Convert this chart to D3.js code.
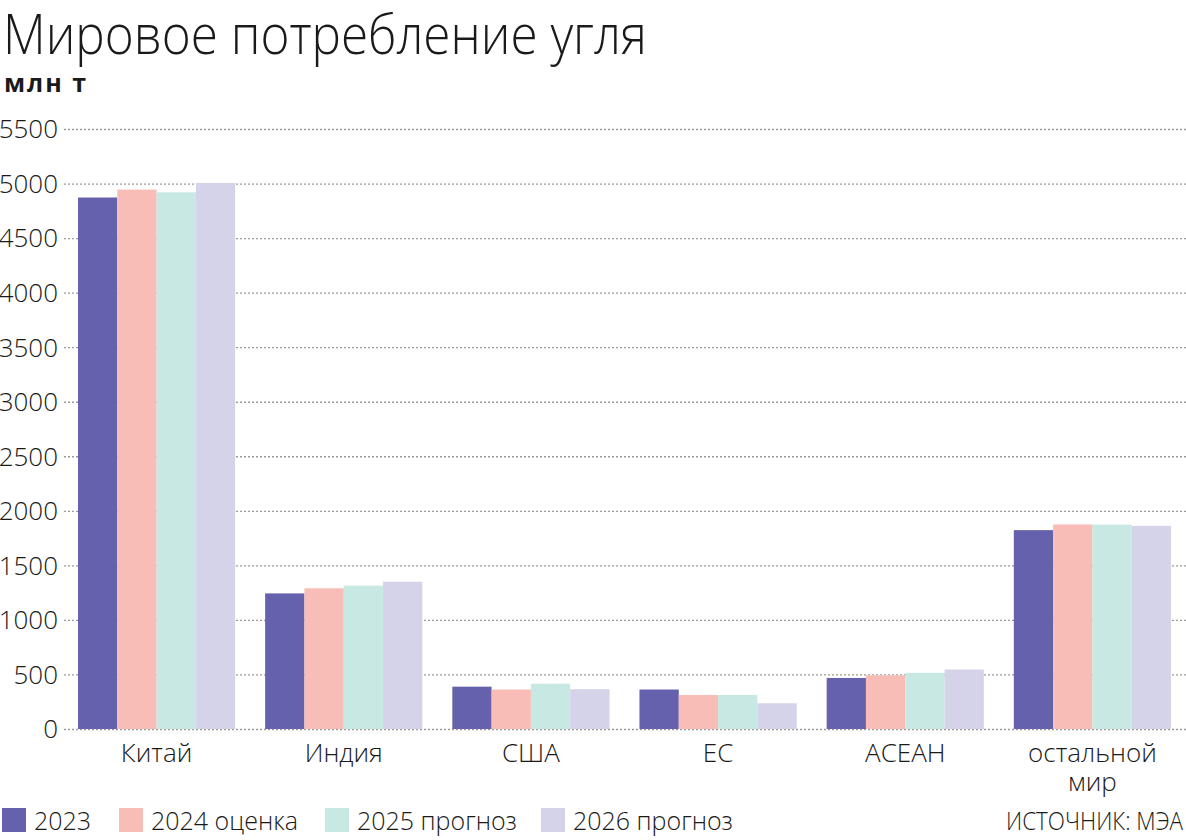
<!DOCTYPE html>
<html lang="ru">
<head>
<meta charset="utf-8">
<script src="https://cdn.jsdelivr.net/npm/d3@7"></script>
<style>
  body { margin: 0; background: #fff; }
  svg { display: block; font-family: "Open Sans", "Noto Sans", sans-serif; }
  .light { font-weight: 300; fill: #1a1a1a; }
  .grid line { stroke: #9a9a9a; stroke-width: 1.3; stroke-dasharray: 2 2; }
</style>
</head>
<body>
<script>
"use strict";

// Data (млн т)
const regions = ["Китай", "Индия", "США", "ЕС", "АСЕАН", "остальной мир"];
const seriesNames = ["2023", "2024 оценка", "2025 прогноз", "2026 прогноз"];
const v2023 = [4872, 1243, 388, 362, 468, 1823];
const v2024 = [4945, 1290, 362, 312, 492, 1875];
const v2025 = [4920, 1314, 415, 312, 515, 1873];
const v2026 = [5006, 1350, 365, 236, 545, 1862];
const yTicks = [0, 500, 1000, 1500, 2000, 2500, 3000, 3500, 4000, 4500, 5000, 5500];
const colors = ["#6661ac", "#f8bdb6", "#c8e8e4", "#d5d3ea"];

const w = 1186;
const h = 840;
const series = [v2023, v2024, v2025, v2026];

const svg = d3.select("body").append("svg").attr("width", w).attr("height", h);

// Title and unit
svg.append("text").attr("class", "light")
  .attr("x", 3).attr("y", 54)
  .style("font-size", "56px")
  .attr("textLength", 644).attr("lengthAdjust", "spacingAndGlyphs")
  .text("Мировое потребление угля");

svg.append("text")
  .attr("x", 4).attr("y", 92)
  .style("font-size", "25px").style("font-weight", 700).style("letter-spacing", "2px")
  .attr("fill", "#1a1a1a")
  .text("млн т");

// Scales
const y = d3.scaleLinear().domain([0, 5500]).range([729, 129]);
const x0 = d3.scaleBand().domain(regions).range([63, 1186]).paddingInner(0.16).paddingOuter(0.08);
const x1 = d3.scaleBand().domain(seriesNames).range([0, x0.bandwidth()]);

// Grid with labels
const yAxis = d3.axisLeft(y).tickValues(yTicks).tickFormat(d3.format("d")).tickSize(0).tickPadding(6);
const grid = svg.append("g").attr("class", "grid").attr("transform", "translate(64,0)").call(yAxis);
grid.attr("font-family", null).attr("font-size", null);
grid.select(".domain").remove();
grid.selectAll(".tick line").attr("x2", w - 64);
grid.selectAll(".tick text")
  .attr("class", "light")
  .style("font-size", "26px")
  .attr("dy", "0.34em");

// Bars
const groups = svg.append("g").selectAll("g")
  .data(regions)
  .join("g")
  .attr("transform", (d) => `translate(${x0(d)},0)`);

groups.selectAll("rect")
  .data((d, i) => series.map((s, j) => ({ key: seriesNames[j], value: s[i], c: colors[j] })))
  .join("rect")
  .attr("x", (d) => x1(d.key))
  .attr("width", x1.bandwidth())
  .attr("y", (d) => y(d.value))
  .attr("height", (d) => y(0) - y(d.value))
  .attr("fill", (d) => d.c);

// Category labels
const xAxis = d3.axisBottom(x0).tickSize(0).tickPadding(0);
const xg = svg.append("g").attr("transform", "translate(0,729)").call(xAxis);
xg.attr("font-family", null).attr("font-size", null);
xg.select(".domain").remove();
xg.selectAll(".tick text").remove();
xg.selectAll(".tick").each(function (d) {
  const words = d === "остальной мир" ? ["остальной", "мир"] : [d];
  const t = d3.select(this).append("text")
    .attr("class", "light")
    .attr("text-anchor", "middle")
    .style("font-size", "26px");
  words.forEach((wd, k) => {
    t.append("tspan").attr("x", 0).attr("y", 33 + k * 29).text(wd);
  });
});

// Legend
const legendX = [2, 119, 325, 541];
const legend = svg.append("g").selectAll("g")
  .data(seriesNames)
  .join("g")
  .attr("transform", (d, i) => `translate(${legendX[i]},808)`);

legend.append("rect").attr("width", 24).attr("height", 24).attr("fill", (d, i) => colors[i]);
legend.append("text").attr("class", "light")
  .attr("x", 32).attr("y", 22)
  .style("font-size", "25px")
  .text((d) => d);

svg.append("text").attr("class", "light")
  .attr("x", 1183).attr("y", 830)
  .attr("text-anchor", "end")
  .style("font-size", "26px")
  .attr("textLength", 177).attr("lengthAdjust", "spacingAndGlyphs")
  .text("ИСТОЧНИК: МЭА");
</script>
</body>
</html>
